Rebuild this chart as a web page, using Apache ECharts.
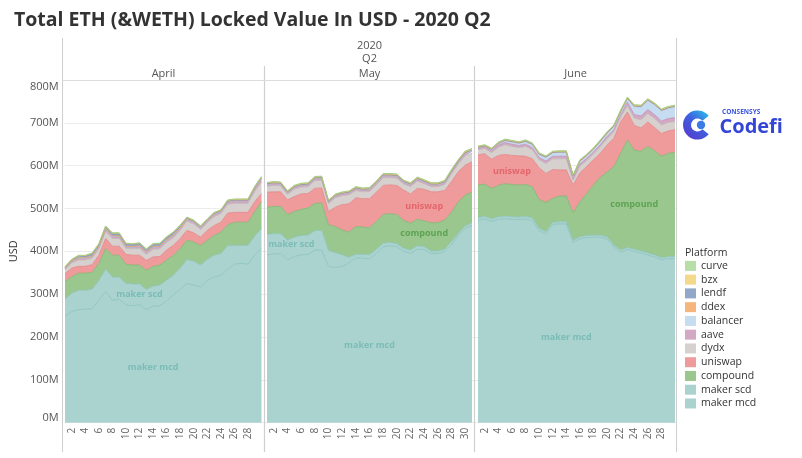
<!DOCTYPE html>
<html><head><meta charset="utf-8">
<script src="https://cdn.jsdelivr.net/npm/echarts@6/dist/echarts.min.js"></script>
<style>html,body{margin:0;padding:0;background:#fff}#c{width:802px;height:458px}</style>
</head><body><div id="c"></div>
<script>
// ---- categories ----
const monthNames = ['April', 'May', 'June'];
const aprilDays = ['1','2','3','4','5','6','7','8','9','10','11','12','13','14','15','16','17','18','19','20','21','22','23','24','25','26','27','28','29','30'];
const mayDays = ['1','2','3','4','5','6','7','8','9','10','11','12','13','14','15','16','17','18','19','20','21','22','23','24','25','26','27','28','29','30','31'];
const juneDays = ['1','2','3','4','5','6','7','8','9','10','11','12','13','14','15','16','17','18','19','20','21','22','23','24','25','26','27','28','29','30'];
const yTicks = [0, 100, 200, 300, 400, 500, 600, 700, 800];

// ---- April (M USD) ----
const apr_mcd = [248,260,264,265,266,286,306,286,288,275,273,275,264,272,273,285,298,312,325,321,317,332,340,344,358,370,372,370,392,407];
const apr_scd = [40,42,45,44,46,46,52,54,52,50,51,49,47,47,48,48,46,49,56,56,51,49,51,51,55,44,42,44,44,46];
const apr_compound = [41,39,40,40,39,40,49,51,51,45,44,44,45,46,47,47,47,46,45,45,46,45,46,50,49,54,54,54,57,63];
const apr_uniswap = [19,20,16,16,18,19,23,21,21,23,23,23,23,22,20,23,23,23,23,21,19,23,23,23,27,23,23,23,23,19];
const apr_dydx = [9,12,15,15,15,15,17,18,18,14,15,16,14,18,18,18,18,19,22,21,18,18,21,20,21,21,21,21,24,27];
const apr_aave = [2,3,3,3,3,3,3,4,4,3,3,4,4,4,4,4,4,4,4,4,4,4,5,4,5,5,5,5,6,7];
const apr_balancer = [0.4,0.4,0.4,0.5,0.5,0.5,0.5,0.5,0.5,0.5,0.5,0.5,0.5,0.5,0.5,0.6,0.6,0.6,0.6,0.6,0.6,0.7,0.7,0.7,0.7,0.8,0.8,0.8,0.9,1.0];
const apr_ddex = [1.2,1.3,1.4,1.4,1.5,1.5,1.6,1.6,1.6,1.5,1.5,1.5,1.4,1.5,1.5,1.5,1.6,1.6,1.6,1.6,1.5,1.5,1.6,1.6,1.6,1.7,1.7,1.7,1.8,1.8];
const apr_lendf = [2,2,4,4,5,5,5,5,5,5,5,5,5,5,5,5,5,4,0.5,0.3,0.3,0.3,0.3,0.3,0.3,0.3,0.3,0.3,0.3,0.3];
const apr_bzx = [1.3,1.4,1.4,1.4,1.5,1.5,1.6,1.6,1.6,1.5,1.5,1.5,1.4,1.5,1.5,1.5,1.6,1.6,1.6,1.6,1.5,1.5,1.6,1.6,1.7,1.7,1.7,1.7,1.8,1.9];
const apr_curve = [0.5,0.5,0.6,0.6,0.6,0.6,0.7,0.7,0.7,0.6,0.6,0.6,0.6,0.7,0.7,0.7,0.7,0.7,0.8,0.8,0.7,0.7,0.8,0.8,0.8,0.8,0.9,0.9,1.0,1.0];

// ---- May ----
const may_mcd = [392,394,395,380,388,392,393,403,403,365,362,365,373,385,384,383,395,411,413,411,400,395,405,404,395,395,400,415,438,453,461];
const may_scd = [48,47,46,46,45,45,45,45,46,37,35,27,13,8,9,9,10,8,8,7,7,8,8,7,6,6,5,8,4,6,6];
const may_compound = [63,64,64,60,60,61,63,64,64,60,61,58,59,65,64,63,65,67,67,68,65,63,62,60,66,66,68,68,74,72,72];
const may_uniswap = [35,34,34,34,35,36,34,35,35,31,45,59,66,67,66,68,68,68,67,68,71,68,72,74,72,72,69,72,70,70,70];
const may_dydx = [14,15,14,13,17,16,16,18,18,18,22,21,21,17,16,17,17,18,17,17,14,17,17,13,12,12,14,18,18,22,20];
const may_aave = [3.2,3.3,3.3,3.2,3.5,3.4,3.4,3.6,3.6,3.3,3.5,3.5,3.5,3.4,3.4,3.5,3.5,3.6,3.6,3.6,3.5,3.5,3.6,3.5,3.5,3.5,3.6,3.8,4.0,4.2,4.2];
const may_balancer = [1.0,1.0,1.0,0.9,1.0,1.0,1.0,1.1,1.1,0.9,0.9,0.9,1.0,1.0,1.0,1.0,1.1,1.1,1.1,1.1,1.0,1.0,1.1,1.1,1.1,1.1,1.2,1.3,1.4,1.5,1.6];
const may_ddex = [1.5,1.5,1.5,1.4,1.5,1.5,1.5,1.6,1.6,1.4,1.4,1.4,1.4,1.5,1.5,1.5,1.5,1.6,1.6,1.6,1.5,1.5,1.5,1.5,1.5,1.5,1.5,1.6,1.7,1.7,1.7];
const may_lendf = [0.3,0.3,0.3,0.3,0.3,0.3,0.3,0.3,0.3,0.3,0.3,0.3,0.3,0.3,0.3,0.3,0.3,0.3,0.3,0.3,0.3,0.3,0.3,0.3,0.3,0.3,0.3,0.3,0.3,0.3,0.3];
const may_bzx = [2.0,2.0,2.0,1.9,2.0,2.0,2.0,2.1,2.1,1.8,1.8,1.8,1.9,1.9,1.9,1.9,2.0,2.1,2.1,2.1,2.0,2.0,2.0,2.0,2.0,2.0,2.0,2.1,2.2,2.3,2.3];
const may_curve = [1.0,1.0,1.0,0.9,1.0,1.0,1.0,1.0,1.0,0.9,0.9,0.9,0.9,1.0,1.0,1.0,1.0,1.0,1.0,1.0,1.0,1.0,1.0,1.0,1.0,1.0,1.0,1.1,1.1,1.2,1.2];

// ---- June ----
const jun_mcd = [473,476,470,475,476,475,474,476,472,448,441,463,464,464,421,429,432,433,433,429,410,398,404,400,396,391,387,380,383,383];
const jun_scd = [6,6,6,6,6,6,6,6,6,6,5,5,5,5,5,5,5,5,5,5,5,5,5,5,5,5,5,5,5,5];
const jun_compound = [76,75,71,73,76,75,75,74,73,67,68,56,60,60,64,82,98,117,135,151,183,226,251,231,233,249,243,237,241,243];
const jun_uniswap = [70,71,68,70,68,68,68,66,65,74,68,67,61,61,65,67,63,59,56,63,66,73,65,58,54,57,54,53,52,53];
const jun_dydx = [12,12,15,19,23,21,19,23,21,19,23,25,26,26,11,16,14,13,15,15,15,12,15,17,19,20,21,20,20,19];
const jun_aave = [4,4,5,5,5,5,5,5,5,5,6,6,6,6,4,5,5,5,5,5,5,5,8,8,9,9,9,9,9,9];
const jun_balancer = [1,1,2,3,4,5,5,6,7,7,8,8,9,9,5,6,6,6,7,7,7,7,8,19,21,21,23,24,24,25];
const jun_ddex = [1.0,1.0,1.0,1.0,1.1,1.1,1.0,1.1,1.1,1.0,1.0,1.0,1.0,1.0,0.9,1.0,1.0,1.0,1.0,1.1,1.1,1.1,1.2,1.2,1.2,1.2,1.2,1.2,1.2,1.2];
const jun_lendf = [0.3,0.3,0.3,0.3,0.3,0.3,0.3,0.3,0.3,0.3,0.3,0.3,0.3,0.3,0.3,0.3,0.3,0.3,0.3,0.3,0.3,0.3,0.3,0.3,0.3,0.3,0.3,0.3,0.3,0.3];
const jun_bzx = [1.5,1.5,1.5,1.5,1.6,1.6,1.5,1.6,1.6,1.5,1.5,1.5,1.5,1.5,1.3,1.4,1.4,1.4,1.5,1.5,1.5,1.5,1.6,1.6,1.6,1.6,1.6,1.6,1.6,1.6];
const jun_curve = [1.2,1.2,1.2,1.2,1.2,1.2,1.2,1.2,1.2,1.1,1.1,1.1,1.1,1.1,1.0,1.1,1.1,1.1,1.2,1.2,1.2,1.3,1.3,1.3,1.3,1.3,1.3,1.3,1.3,1.3];

// ---- structure ----
const platforms = ['maker mcd','maker scd','compound','uniswap','dydx','aave','balancer','ddex','lendf','bzx','curve'];
const legendOrder = ['curve','bzx','lendf','ddex','balancer','aave','dydx','uniswap','compound','maker scd','maker mcd'];
const panelData = [
  [apr_mcd, apr_scd, apr_compound, apr_uniswap, apr_dydx, apr_aave, apr_balancer, apr_ddex, apr_lendf, apr_bzx, apr_curve],
  [may_mcd, may_scd, may_compound, may_uniswap, may_dydx, may_aave, may_balancer, may_ddex, may_lendf, may_bzx, may_curve],
  [jun_mcd, jun_scd, jun_compound, jun_uniswap, jun_dydx, jun_aave, jun_balancer, jun_ddex, jun_lendf, jun_bzx, jun_curve]
];
const panelDays = [aprilDays, mayDays, juneDays];

// styles / layout
const fill = {'maker mcd':'#aad3cf','maker scd':'#aad3cf','compound':'#99c78d','uniswap':'#ef9b9c','dydx':'#d6d1ce','aave':'#d3a8c5','balancer':'#c6dcf0','ddex':'#f7b57e','lendf':'#92a8c9','bzx':'#f4d98b','curve':'#b6dea6'};
const edge = {'maker mcd':'#86c0ba','maker scd':'#8cc3bd','compound':'#7db56f','uniswap':'#e47f83','dydx':'#bfb8b4','aave':'#c28db2','balancer':'#a9c7e3','ddex':'#ef9f5f','lendf':'#7a93b8','bzx':'#e6c764','curve':'#94cd80'};
const labelColor = {'maker mcd':'#70b7b0','maker scd':'#70b7b0','compound':'#4f9a46','uniswap':'#e0585e'};
const panelBox = [{left:65, width:196.5},{left:267, width:205},{left:478, width:197}];
const plotTop = 80, plotBottom = 35.3;
const FONT = 'Open Sans';

const labelSpecs = [
  {p:0, name:'maker mcd', day:14, frac:0.47, dx:0},
  {p:0, name:'maker scd', day:12, frac:0.5, dx:0},
  {p:1, name:'maker scd', day:5, frac:0.6, dx:-3},
  {p:1, name:'maker mcd', day:16, frac:0.47, dx:0},
  {p:1, name:'compound', day:24, frac:0.5, dx:0},
  {p:1, name:'uniswap', day:24, frac:0.45, dx:0},
  {p:2, name:'uniswap', day:6, frac:0.45, dx:0},
  {p:2, name:'compound', day:24, frac:0.45, dx:0},
  {p:2, name:'maker mcd', day:14, frac:0.43, dx:0}
];
function labelValue(s) {
  const idx = platforms.indexOf(s.name);
  let base = 0;
  for (let k = 0; k < idx; k++) base += panelData[s.p][k][s.day - 1];
  return base + s.frac * panelData[s.p][idx][s.day - 1];
}

const grid = [{left:63, width:613, top:plotTop, bottom:plotBottom}];
const xAxis = [{type:'value', gridIndex:0, min:0, max:1, show:false}];
const yAxis = [{
  type:'value', gridIndex:0, min:0, max:800, interval:100,
  name:'USD', nameLocation:'middle', nameGap:34, nameTextStyle:{fontSize:11, color:'#333', fontFamily:FONT},
  axisLine:{show:false}, axisTick:{show:false},
  splitLine:{lineStyle:{color:'#ececec', width:1}},
  axisLabel:{
    fontSize:11, color:'#555', fontFamily:FONT, margin:6,
    formatter: v => v === 0 ? '{lo|0M}' : (v === 800 ? '{hi|800M}' : (yTicks.indexOf(v) >= 0 ? v + 'M' : '')),
    rich:{
      lo:{fontSize:11, color:'#555', fontFamily:FONT, padding:[0,0,9,0]},
      hi:{fontSize:11, color:'#555', fontFamily:FONT, padding:[14,0,0,0]}
    }
  }
}];
const series = [];
panelDays.forEach((days, p) => {
  grid.push({left:panelBox[p].left, width:panelBox[p].width, top:plotTop, bottom:plotBottom});
  xAxis.push({
    type:'category', gridIndex:p+1, data:days, boundaryGap:false,
    axisLine:{show:false}, axisTick:{show:false}, splitLine:{show:false},
    axisLabel:{rotate:90, fontSize:10, color:'#666', fontFamily:FONT, margin:5,
      interval:(i) => (i + 1) % 2 === 0 && i < days.length - 1}
  });
  yAxis.push({type:'value', gridIndex:p+1, min:0, max:800, show:false, splitLine:{show:false}});
  platforms.forEach((name, k) => {
    series.push({
      type:'line', name, xAxisIndex:p+1, yAxisIndex:p+1, stack:'panel'+p,
      data: panelData[p][k], symbol:'none', showSymbol:false,
      color: fill[name],
      lineStyle:{width:0.8, color:edge[name]},
      areaStyle:{color:fill[name], opacity:1},
      emphasis:{disabled:true}, silent:true, animation:false, z:2
    });
  });
  const labs = labelSpecs.filter(s => s.p === p).map(s => ({
    value:[s.day - 1, labelValue(s)], name:s.name,
    label:{color: labelColor[s.name], offset:[s.dx, 0]}
  }));
  series.push({
    type:'scatter', xAxisIndex:p+1, yAxisIndex:p+1, data:labs, symbolSize:0,
    silent:true, animation:false, z:5,
    label:{show:true, position:'inside', formatter:'{b}', fontSize:9, fontWeight:'bold', fontFamily:FONT}
  });
});

const lineC = '#cfcfcf';
const graphics = [
  {type:'line', shape:{x1:62.5, y1:38, x2:62.5, y2:452}, style:{stroke:lineC, lineWidth:1}, z:10},
  {type:'line', shape:{x1:676.5, y1:38, x2:676.5, y2:452}, style:{stroke:lineC, lineWidth:1}, z:10},
  {type:'line', shape:{x1:264.5, y1:66, x2:264.5, y2:452}, style:{stroke:lineC, lineWidth:1.2}, z:10},
  {type:'line', shape:{x1:474.5, y1:66, x2:474.5, y2:452}, style:{stroke:lineC, lineWidth:1.2}, z:10},
  {type:'line', shape:{x1:62.5, y1:80.5, x2:676.5, y2:80.5}, style:{stroke:'#dcdcdc', lineWidth:1}, z:10},
  {type:'text', x:369.5, y:46, style:{text:'2020', fill:'#555', font:'11px "Open Sans"', textAlign:'center', textVerticalAlign:'middle'}},
  {type:'text', x:369.5, y:59, style:{text:'Q2', fill:'#555', font:'11px "Open Sans"', textAlign:'center', textVerticalAlign:'middle'}},
  {type:'text', x:163.5, y:74, style:{text:monthNames[0], fill:'#555', font:'11px "Open Sans"', textAlign:'center', textVerticalAlign:'middle'}},
  {type:'text', x:369.5, y:74, style:{text:monthNames[1], fill:'#555', font:'11px "Open Sans"', textAlign:'center', textVerticalAlign:'middle'}},
  {type:'text', x:575.5, y:74, style:{text:monthNames[2], fill:'#555', font:'11px "Open Sans"', textAlign:'center', textVerticalAlign:'middle'}},
  {type:'text', x:685, y:253.5, style:{text:'Platform', fill:'#333', font:'10.5px "Open Sans"', textVerticalAlign:'middle'}},
  // Codefi logo
  {type:'sector', shape:{cx:697.5, cy:125, r:14.5, r0:6.5, startAngle:Math.PI*0.22, endAngle:Math.PI*1.78, clockwise:true},
    style:{fill:new echarts.graphic.LinearGradient(0,1,1,0,[{offset:0,color:'#5a36c9'},{offset:0.55,color:'#3f5fe0'},{offset:1,color:'#28c6ea'}])}},
  {type:'circle', shape:{cx:701, cy:125, r:4.2}, style:{fill:'#3a7be6'}},
  {type:'text', x:722, y:112.5, style:{text:'CONSENSYS', fill:'#3d56dc', font:'bold 6.5px "Open Sans"', textVerticalAlign:'middle'}},
  {type:'text', x:719.5, y:127, style:{text:'Codefi', fill:'#3446d8', font:'bold 20px "Open Sans"', textVerticalAlign:'middle'}}
];

const chart = echarts.init(document.getElementById('c'), null, {renderer:'canvas'});
chart.setOption({
  animation:false,
  backgroundColor:'#fff',
  textStyle:{fontFamily:FONT},
  title:{text:'Total ETH (&WETH) Locked Value In USD - 2020 Q2', left:9, top:5,
    textStyle:{fontSize:19.5, fontWeight:'bold', color:'#333', fontFamily:FONT}},
  legend:{
    data: legendOrder, orient:'vertical', left:685, top:259, padding:0,
    itemWidth:11, itemHeight:10, itemGap:0, icon:'rect',
    itemStyle:{borderWidth:0},
    textStyle:{fontSize:10.5, color:'#333', fontFamily:FONT, lineHeight:13.76},
    selectedMode:false
  },
  grid, xAxis, yAxis, series,
  graphic:{elements:graphics}
});
</script>
</body></html>
